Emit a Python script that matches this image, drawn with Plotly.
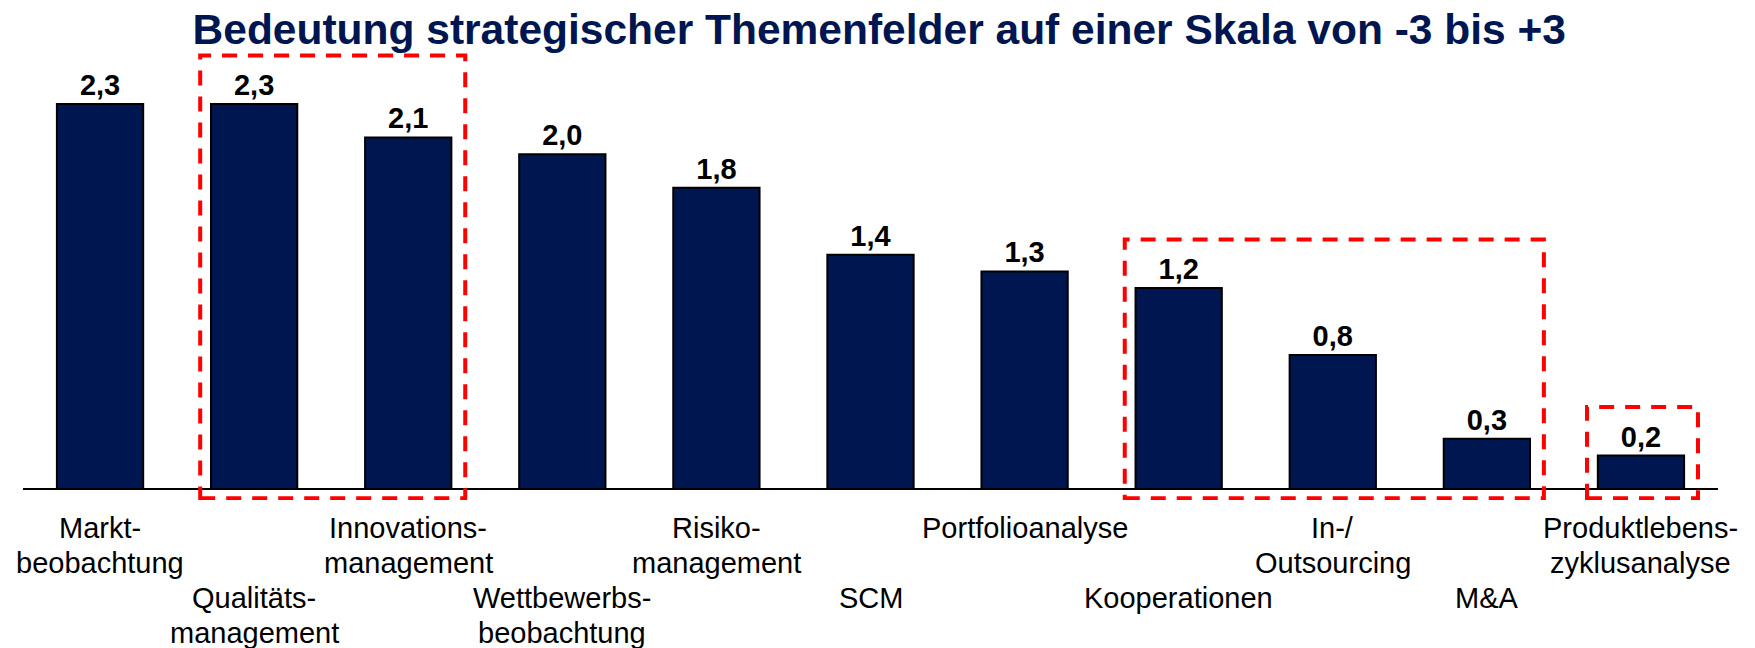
import plotly.graph_objects as go

# ---- data ----
categories = [
    "Markt-<br>beobachtung",
    "Qualitäts-<br>management",
    "Innovations-<br>management",
    "Wettbewerbs-<br>beobachtung",
    "Risiko-<br>management",
    "SCM",
    "Portfolioanalyse",
    "Kooperationen",
    "In-/<br>Outsourcing",
    "M&amp;A",
    "Produktlebens-<br>zyklusanalyse",
]
values = [2.3, 2.3, 2.1, 2.0, 1.8, 1.4, 1.3, 1.2, 0.8, 0.3, 0.2]
label_lower = [False, True, False, True, False, True, False, True, False, True, False]
highlight_groups = [(1, 2), (7, 9), (10, 10)]  # index ranges of highlighted categories

title_text = "Bedeutung strategischer Themenfelder auf einer Skala von -3 bis +3"

NAVY = "#001650"
FONT = "Liberation Sans, Arial, sans-serif"
LABEL_SIZE = 29
ROW_FIRST = 28      # px below plot bottom to centre of first label row
ROW_STEP = 35       # px between label rows

x = list(range(len(categories)))

fig = go.Figure()
fig.add_trace(go.Bar(
    x=x,
    y=values,
    marker=dict(color=NAVY, line=dict(color="black", width=2)),
    texttemplate="%{y:.1f}",
    textposition="outside",
    textfont=dict(family=FONT, size=29, color="black", weight="bold"),
    cliponaxis=False,
    width=0.56,
    hoverinfo="skip",
))

# dashed highlight boxes around groups
pad_l, pad_r, pad_top, box_bottom = 0.35, 0.37, 0.29, -0.055
for i0, i1 in highlight_groups:
    top = max(values[i0:i1 + 1]) + pad_top
    fig.add_shape(
        type="rect", xref="x", yref="y",
        x0=i0 - pad_l, x1=i1 + pad_r, y0=box_bottom, y1=top,
        line=dict(color="#FF0000", width=4, dash="15px,11px"),
        fillcolor="rgba(0,0,0,0)",
        layer="above",
    )

# staggered category labels (one annotation per text line, tight line spacing)
for xi, cat, low in zip(x, categories, label_lower):
    start_row = 2 if low else 0
    for k, line in enumerate(cat.split("<br>")):
        row = start_row + k
        fig.add_annotation(
            x=xi, xref="x", y=0, yref="paper",
            text=line, showarrow=False,
            xanchor="center", yanchor="middle",
            yshift=-(ROW_FIRST + ROW_STEP * row),
            font=dict(family=FONT, size=LABEL_SIZE, color="black"),
        )

fig.update_layout(
    width=1755, height=648,
    margin=dict(l=23, r=37, t=50, b=148),
    plot_bgcolor="white", paper_bgcolor="white",
    separators=", ",
    showlegend=False,
    title=dict(
        text=title_text,
        font=dict(family=FONT, size=42.5, color=NAVY, weight="bold"),
        x=0.501, xanchor="center", xref="container",
        y=1 - 29 / 648, yanchor="middle", yref="container",
    ),
    xaxis=dict(
        range=[-0.5, 10.5],
        showticklabels=False,
        ticks="", showline=False, showgrid=False, zeroline=False,
        automargin=False,
    ),
    yaxis=dict(
        range=[-0.0657, 2.6225],
        showticklabels=False, showgrid=False, showline=False,
        zeroline=True, zerolinecolor="black", zerolinewidth=2,
        ticks="", automargin=False,
    ),
)

fig.write_html(
    "out.html",
    config={"displayModeBar": False},
    post_script="document.body.style.margin='0';document.body.style.overflow='hidden';",
)
